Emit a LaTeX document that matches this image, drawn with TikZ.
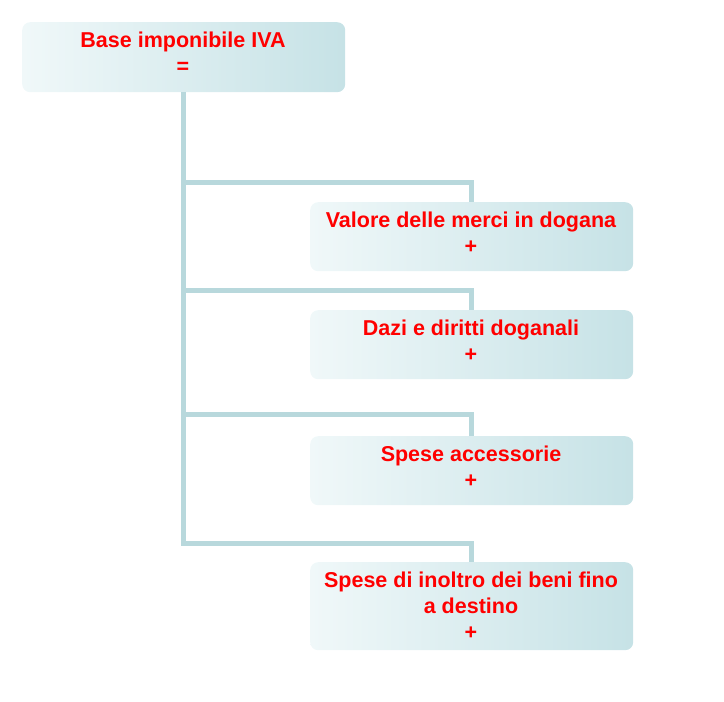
\documentclass[tikz,border=0pt]{standalone}
\usepackage{fontspec}
\setmainfont{Liberation Sans}
\begin{document}
\begin{tikzpicture}[x=1pt,y=-1pt,
  box/.style={rounded corners=8pt,left color=boxL,right color=boxR,draw=none,anchor=north west,inner sep=0pt},
  lbl/.style={font=\bfseries\fontsize{21.5}{26}\selectfont,text=red,align=center,anchor=north,inner sep=0pt},
  conn/.style={draw=lineC,line width=5pt}]
\definecolor{boxL}{HTML}{F0F8F9}
\definecolor{boxR}{HTML}{C6E2E6}
\definecolor{lineC}{HTML}{B8D8DC}
\useasboundingbox (0,0) rectangle (724,702);
\node[box,minimum width=323pt,minimum height=70pt] (top) at (22,22) {};
\node[box,minimum width=323pt,minimum height=69pt] (b1) at (310,202) {};
\node[box,minimum width=323pt,minimum height=69pt] (b2) at (310,310) {};
\node[box,minimum width=323pt,minimum height=69pt] (b3) at (310,436) {};
\node[box,minimum width=323pt,minimum height=88pt] (b4) at (310,562) {};
\node[lbl] (toptx) at (183,32) {Base imponibile IVA\\=};
\node[lbl] (t1) at (471,212) {Valore delle merci in dogana\\+};
\node[lbl] (t2) at (471,320) {Dazi e diritti doganali\\+};
\node[lbl] (t3) at (471,446) {Spese accessorie\\+};
\node[lbl] (t4) at (471,572) {Spese di inoltro dei beni fino\\a destino\\+};
\coordinate (j1) at (183,182);
\coordinate (j2) at (183,290);
\coordinate (j3) at (183,414);
\coordinate (j4) at (183,543);
\draw[conn] (top.south -| j1) -- (j4) -| (b4.north);
\draw[conn] (j1) -| (b1.north);
\draw[conn] (j2) -| (b2.north);
\draw[conn] (j3) -| (b3.north);
\end{tikzpicture}
\end{document}
